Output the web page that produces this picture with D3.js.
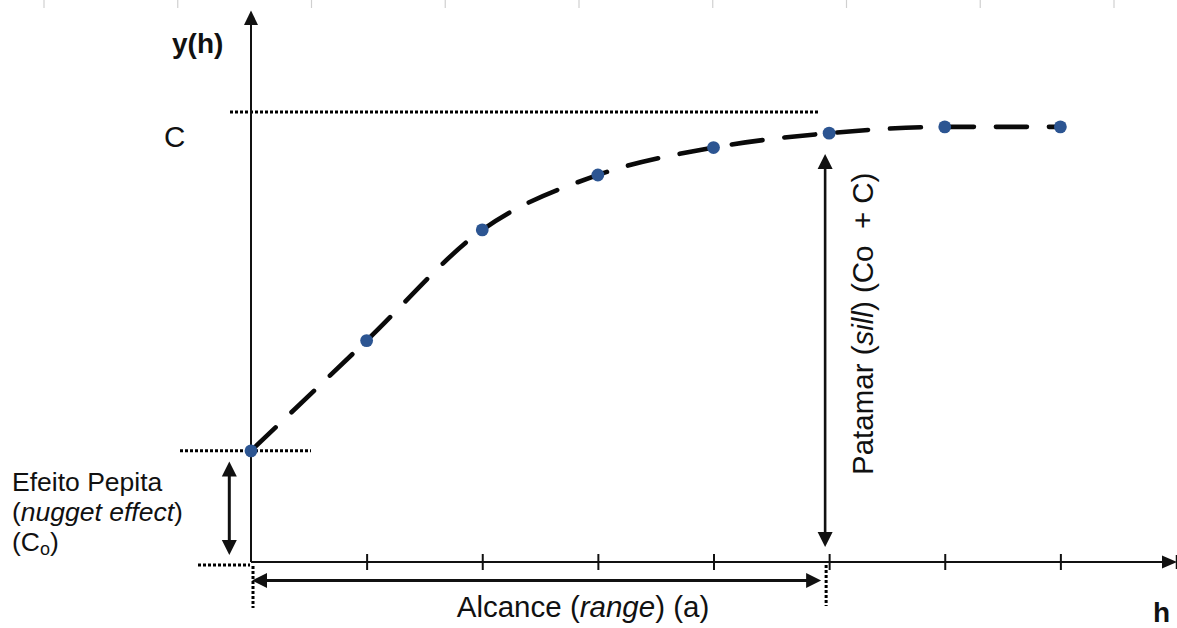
<!DOCTYPE html>
<html>
<head>
<meta charset="utf-8">
<script src="https://cdn.jsdelivr.net/npm/d3@7"></script>
<style>
  html, body { margin: 0; padding: 0; background: #fff; }
  svg { display: block; }
  text { font-family: "Liberation Sans", Arial, Helvetica, sans-serif; fill: #111; white-space: pre; }
</style>
</head>
<body>
<svg id="chart" width="1177" height="628"></svg>
<script>
// ---- data ----
const lags = [0, 1, 2, 3, 4, 5, 6, 7];                       // h (lag classes)
const gamma = [0.247, 0.492, 0.738, 0.86, 0.921, 0.953, 0.967, 0.967]; // semivariance
const xTicks = [1, 2, 3, 4, 5, 6, 7];
const nugget = 0.247;     // C0 level
const sillLevel = 1.0;    // C level (dotted line)
const rangeLag = 5;       // a
const labels = {
  y: "y(h)",
  x: "h",
  c: "C",
  nugget1: "Efeito Pepita",
  range: "Alcance",
  sill: "Patamar"
};

// ---- layout ----
const svg = d3.select("#chart");
const x = d3.scaleLinear().domain([0, 8]).range([251, 1176]);
const y = d3.scaleLinear().domain([0, 1]).range([562, 112]);

// faint grid marks at the top edge (artifact of original)
const topMarks = d3.scaleLinear().domain([0, 8]).range([44, 1114]);
svg.append("g").selectAll("line").data(d3.range(9)).join("line")
  .attr("x1", d => topMarks(d)).attr("x2", d => topMarks(d))
  .attr("y1", 0).attr("y2", 8)
  .attr("stroke", "#d0d0d0").attr("stroke-width", 1.2);

function tri(cx, cy, dir, len, hw) {
  let p;
  if (dir === "up") p = [[cx, cy], [cx - hw, cy + len], [cx + hw, cy + len]];
  if (dir === "down") p = [[cx, cy], [cx - hw, cy - len], [cx + hw, cy - len]];
  if (dir === "left") p = [[cx, cy], [cx + len, cy - hw], [cx + len, cy + hw]];
  if (dir === "right") p = [[cx, cy], [cx - len, cy - hw], [cx - len, cy + hw]];
  return "M" + p.map(q => q.join(",")).join("L") + "Z";
}

const g = svg.append("g");

// ---- dotted guides ----
const dot = sel => sel.attr("stroke", "#000").attr("stroke-width", 3)
  .attr("stroke-dasharray", "3 2").attr("fill", "none");
g.append("line").attr("x1", 230).attr("x2", 818).attr("y1", y(sillLevel)).attr("y2", y(sillLevel)).call(dot);
g.append("line").attr("x1", 180).attr("x2", 311).attr("y1", y(nugget)).attr("y2", y(nugget)).call(dot);
g.append("line").attr("x1", 198).attr("x2", 250).attr("y1", y(0) + 3).attr("y2", y(0) + 3).call(dot);
g.append("line").attr("x1", x(0) + 2).attr("x2", x(0) + 2).attr("y1", y(0) + 4).attr("y2", 608).call(dot);
g.append("line").attr("x1", x(rangeLag) - 3).attr("x2", x(rangeLag) - 3).attr("y1", y(0) + 3).attr("y2", 606).call(dot);

// ---- axes ----
g.append("line").attr("x1", x(0)).attr("x2", x(0)).attr("y1", y(0)).attr("y2", 22)
  .attr("stroke", "#111").attr("stroke-width", 2);
g.append("path").attr("d", tri(x(0), 10.5, "up", 14.5, 7)).attr("fill", "#111");
g.append("line").attr("x1", x(0)).attr("x2", 1165).attr("y1", y(0)).attr("y2", y(0))
  .attr("stroke", "#111").attr("stroke-width", 2);
g.append("path").attr("d", tri(1177, y(0), "right", 15, 6.5)).attr("fill", "#111");
const xAxis = d3.axisBottom(x).tickValues(xTicks).tickSize(16).tickFormat("");
const ax = g.append("g").attr("transform", `translate(0,${y(0) - 8})`).call(xAxis);
ax.select(".domain").remove();
ax.selectAll(".tick line").attr("stroke", "#111").attr("stroke-width", 2);

// ---- curve ----
const line = d3.line().x((d, i) => x(lags[i])).y(d => y(d)).curve(d3.curveMonotoneX);
g.append("path").attr("d", line(gamma))
  .attr("fill", "none").attr("stroke", "#0a0a0a").attr("stroke-width", 4.6)
  .attr("stroke-linecap", "round")
  .attr("stroke-dasharray", "31 22").attr("stroke-dashoffset", -3);
g.append("g").selectAll("circle").data(gamma).join("circle")
  .attr("cx", (d, i) => x(lags[i])).attr("cy", d => y(d)).attr("r", 6.4)
  .attr("fill", "#2C5592");

// ---- annotation arrows ----
function dblArrowV(cx, yTop, yBot, w) {
  g.append("line").attr("x1", cx).attr("x2", cx).attr("y1", yTop + 10).attr("y2", yBot - 10)
    .attr("stroke", "#111").attr("stroke-width", w);
  g.append("path").attr("d", tri(cx, yTop, "up", 15, 7.5)).attr("fill", "#111");
  g.append("path").attr("d", tri(cx, yBot, "down", 15, 7.5)).attr("fill", "#111");
}
dblArrowV(229.3, 461.5, 555, 3);
dblArrowV(x(rangeLag) - 4, 154, 547, 2.6);
g.append("line").attr("x1", x(0) + 10).attr("x2", x(rangeLag) - 18).attr("y1", 580.5).attr("y2", 580.5)
  .attr("stroke", "#111").attr("stroke-width", 3.2);
g.append("path").attr("d", tri(x(0) + 1, 580.5, "left", 15, 7.5)).attr("fill", "#111");
g.append("path").attr("d", tri(x(rangeLag) - 8, 580.5, "right", 15, 7.5)).attr("fill", "#111");
g.append("line").attr("x1", 1176.5).attr("x2", 1176.5).attr("y1", 555).attr("y2", 569)
  .attr("stroke", "#111").attr("stroke-width", 1.5);

// ---- text ----
const fs = 29.5;
g.append("text").attr("x", 172).attr("y", 53).attr("font-size", 28).attr("font-weight", "bold").text(labels.y);
g.append("text").attr("x", 1153).attr("y", 622).attr("font-size", 28).attr("font-weight", "bold").text(labels.x);
g.append("text").attr("x", 164).attr("y", 146.5).attr("font-size", fs).text(labels.c);

const nfs = 26.5;
g.append("text").attr("x", 12).attr("y", 491).attr("font-size", nfs).text(labels.nugget1);
const t2 = g.append("text").attr("x", 12).attr("y", 521).attr("font-size", nfs);
t2.append("tspan").text("(");
t2.append("tspan").attr("font-style", "italic").text("nugget effect");
t2.append("tspan").text(")");
const t3 = g.append("text").attr("x", 12).attr("y", 551).attr("font-size", nfs);
t3.append("tspan").text("(C");
t3.append("tspan").attr("font-size", 18).attr("dy", 4).text("o");
t3.append("tspan").attr("dy", -4).text(")");

const t4 = g.append("text").attr("x", 583).attr("y", 617).attr("font-size", fs).attr("text-anchor", "middle");
t4.append("tspan").text(labels.range + " (");
t4.append("tspan").attr("font-style", "italic").text("range");
t4.append("tspan").text(") (a)");

const t5 = g.append("text").attr("transform", "translate(873,475) rotate(-90)").attr("font-size", fs);
t5.append("tspan").text(labels.sill + " (");
t5.append("tspan").attr("font-style", "italic").text("sill");
t5.append("tspan").text(") (Co  + C)");
</script>
</body>
</html>
